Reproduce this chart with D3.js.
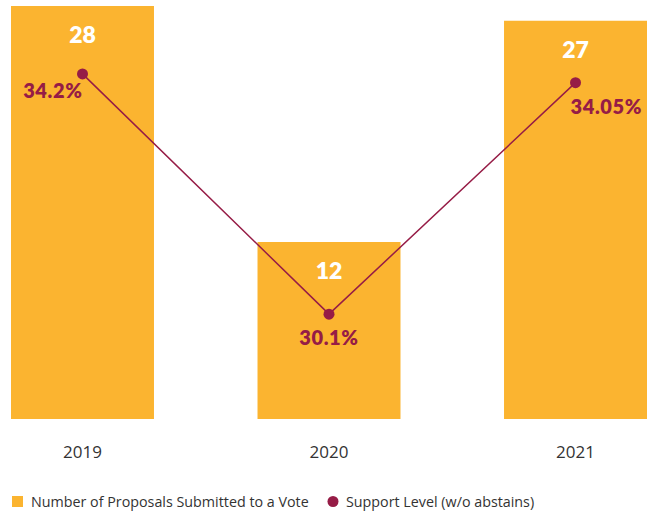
<!DOCTYPE html>
<html>
<head>
<meta charset="utf-8">
<script src="https://cdn.jsdelivr.net/npm/d3@7"></script>
<style>
  html, body { margin: 0; padding: 0; background: #fff; }
  svg { display: block; }
</style>
</head>
<body>
<svg id="chart" width="656" height="512"></svg>
<script>
// Proposals submitted to a vote, with average support level
const years = ["2019", "2020", "2021"];
const proposals = [28, 12, 27];
const support = [34.2, 30.1, 34.05];
const supportLabels = ["34.2%", "30.1%", "34.05%"];
const legendLabels = ["Number of Proposals Submitted to a Vote", "Support Level (w/o abstains)"];

const BAR = "#fbb430";
const LINE = "#961c46";

const svg = d3.select("#chart");

const x = d3.scaleBand().domain(years).range([11, 647]).paddingInner(0.42).paddingOuter(0);
const y = d3.scaleLinear().domain([0, 28]).range([419, 6]);
const y2 = d3.scaleLinear().domain([30, 35]).range([320, 27]);

const cx = d => x(d) + x.bandwidth() / 2;

// Bars
svg.append("g").selectAll("rect")
  .data(years)
  .join("rect")
  .attr("x", d => x(d))
  .attr("y", (d, i) => y(proposals[i]))
  .attr("width", x.bandwidth())
  .attr("height", (d, i) => y(0) - y(proposals[i]))
  .attr("fill", BAR);

// Bar value labels
svg.append("g").selectAll("text")
  .data(years)
  .join("text")
  .attr("x", d => cx(d))
  .attr("y", (d, i) => y(proposals[i]) + 37)
  .attr("text-anchor", "middle")
  .attr("font-family", "Lato, 'Open Sans', sans-serif")
  .attr("font-weight", 800)
  .attr("font-size", 23)
  .attr("fill", "#fff")
  .text((d, i) => proposals[i]);

// Support level line
const line = d3.line().x(d => cx(d)).y((d, i) => y2(support[i]));
svg.append("path")
  .datum(years)
  .attr("d", line)
  .attr("fill", "none")
  .attr("stroke", LINE)
  .attr("stroke-width", 1.5);

svg.append("g").selectAll("circle")
  .data(years)
  .join("circle")
  .attr("cx", d => cx(d))
  .attr("cy", (d, i) => y2(support[i]))
  .attr("r", 5.5)
  .attr("fill", LINE);

// Support level labels
const anchors = ["end", "middle", "start"];
const dx = [0, 0, -5];
const dy = [24, 31, 31];
svg.append("g").selectAll("text")
  .data(years)
  .join("text")
  .attr("x", (d, i) => cx(d) + dx[i])
  .attr("y", (d, i) => y2(support[i]) + dy[i])
  .attr("text-anchor", (d, i) => anchors[i])
  .attr("font-family", "Lato, 'Open Sans', sans-serif")
  .attr("font-weight", 800)
  .attr("font-size", 20)
  .attr("letter-spacing", 0.6)
  .attr("fill", LINE)
  .text((d, i) => supportLabels[i]);

// Category axis
const xAxis = svg.append("g")
  .attr("transform", "translate(0,419)")
  .call(d3.axisBottom(x).tickSize(0).tickPadding(27));
xAxis.select(".domain").remove();
xAxis.selectAll("text")
  .attr("font-family", "'Open Sans', sans-serif")
  .attr("font-size", 17)
  .attr("fill", "#333");

// Legend
const legend = svg.append("g").attr("font-family", "'Open Sans', sans-serif").attr("font-size", 14.3).attr("fill", "#333");
legend.append("rect").attr("x", 12).attr("y", 496).attr("width", 11).attr("height", 11).attr("fill", BAR);
legend.append("text").attr("x", 31).attr("y", 507).text(legendLabels[0]);
legend.append("circle").attr("cx", 333).attr("cy", 501.5).attr("r", 5.5).attr("fill", LINE);
legend.append("text").attr("x", 346).attr("y", 507).text(legendLabels[1]);
</script>
</body>
</html>
